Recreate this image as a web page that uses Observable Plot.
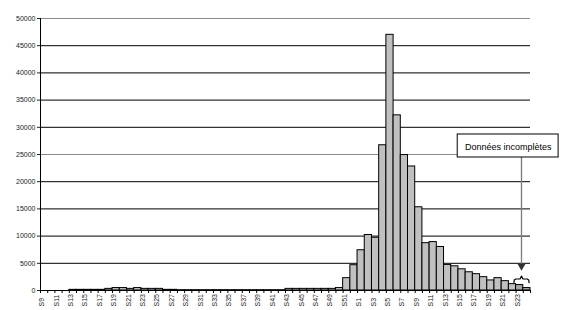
<!DOCTYPE html>
<html>
<head>
<meta charset="utf-8">
<script src="https://cdn.jsdelivr.net/npm/d3@7"></script>
<script src="https://cdn.jsdelivr.net/npm/@observablehq/plot@0.6"></script>
<style>
  html, body { margin: 0; padding: 0; background: #fff; }
  svg { display: block; }
</style>
</head>
<body>
<div id="chart"></div>
<script>
// Weeks (S9 of year 1 through S24 of year 2)
const weeks = [
  "S9","S10","S11","S12","S13","S14","S15","S16","S17","S18","S19","S20","S21","S22","S23","S24","S25","S26","S27","S28",
  "S29","S30","S31","S32","S33","S34","S35","S36","S37","S38","S39","S40","S41","S42","S43","S44","S45","S46","S47","S48",
  "S49","S50","S51","S52",
  "S1","S2","S3","S4","S5","S6","S7","S8","S9","S10","S11","S12","S13","S14","S15","S16","S17","S18","S19","S20",
  "S21","S22","S23","S24"
];
const values = [
  0, 0, 0, 0, 120, 120, 120, 120, 120, 300, 450, 450, 300, 450, 300, 300, 300, 120, 120, 60,
  60, 60, 60, 60, 60, 60, 60, 60, 60, 60, 60, 60, 60, 60, 300, 300, 300, 300, 300, 300,
  300, 450, 2270, 4650,
  7400, 10200, 9700, 26700, 47000, 32200, 24900, 22800, 15300, 8700, 8900, 8000, 4700, 4450, 3900, 3350, 3000, 2450, 1850, 2270,
  1720, 1170, 1000, 450
];
// Weeks whose data are incomplete (drawn darker)
const incompleteWeeks = [66, 67];
const yTicks = [0, 5000, 10000, 15000, 20000, 25000, 30000, 35000, 40000, 45000, 50000];
const grayGrid = [25000, 50000];

// Annotation
const noteText = "Données incomplètes";
const noteBox = {x1: 57.9, x2: 71.9, y1: 24450, y2: 28680};
const noteTextPos = {x: 64.9, y: 26450};
const arrowX = 66.75, arrowFrom = 24450, arrowTo = 4500;
const braceX = [65.7, 65.75, 65.95, 66.55, 66.75, 66.95, 67.55, 67.75, 67.8];
const braceY = [1450, 1950, 2110, 2110, 2650, 2110, 2110, 1950, 1450];

const data = values.map((v, i) => ({i, week: weeks[i], value: v,
  fill: incompleteWeeks.includes(i) ? "#a4a4a4" : "#c0c0c0"}));
const labels = data.filter(d => d.i % 2 === 0);
const grid = yTicks.filter(v => v > 0).map(v => ({v, stroke: grayGrid.includes(v) ? "#8a8a8a" : "#000"}));
const brace = braceX.map((x, k) => ({x, y: braceY[k]}));

const chart = Plot.plot({
  width: 567,
  height: 310,
  marginLeft: 40,
  marginRight: 37,
  marginTop: 18,
  marginBottom: 20,
  style: {fontFamily: "'Liberation Sans', Arial, sans-serif", background: "#fff"},
  x: {domain: [0, weeks.length], axis: null},
  y: {domain: [0, 50000], axis: null},
  color: {type: "identity"},
  marks: [
    Plot.ruleY(grid, {y: "v", stroke: "stroke", strokeWidth: 1}),
    Plot.rectY(data, {x1: "i", x2: d => d.i + 1, y: "value", fill: "fill", stroke: "#000", strokeWidth: 1, inset: 0}),
    Plot.ruleY([0], {stroke: "#000"}),
    Plot.ruleX([0], {y1: 0, y2: 50000, stroke: "#000"}),
    Plot.axisY({ticks: yTicks, tickSize: 3, tickPadding: 2, tickFormat: d3.format("d"), fontSize: 7, color: "#222", anchor: "left"}),
    Plot.axisX({ticks: d3.range(0, weeks.length + 1), tickSize: 3, tickFormat: () => "", anchor: "bottom", color: "#000"}),
    Plot.text(labels, {x: d => d.i + 0.5, text: "week", frameAnchor: "bottom", dy: 16, rotate: -90, textAnchor: "start", fontSize: 7, fill: "#222"}),
    // annotation
    Plot.ruleX([arrowX], {y1: arrowFrom, y2: arrowTo, stroke: "#7a7a7a", strokeWidth: 1.3}),
    Plot.dot([{x: arrowX, y: arrowTo}], {x: "x", y: "y", symbol: "triangle", r: 3, rotate: 180, fill: "#333", stroke: "none"}),
    Plot.rect([noteBox], {x1: "x1", x2: "x2", y1: "y1", y2: "y2", fill: "#fff", stroke: "#000", strokeWidth: 1}),
    Plot.text([noteTextPos], {x: "x", y: "y", text: () => noteText, fontSize: 9, fill: "#000"}),
    Plot.line(brace, {x: "x", y: "y", stroke: "#000", strokeWidth: 1.2})
  ]
});
document.getElementById("chart").appendChild(chart);
</script>
</body>
</html>
